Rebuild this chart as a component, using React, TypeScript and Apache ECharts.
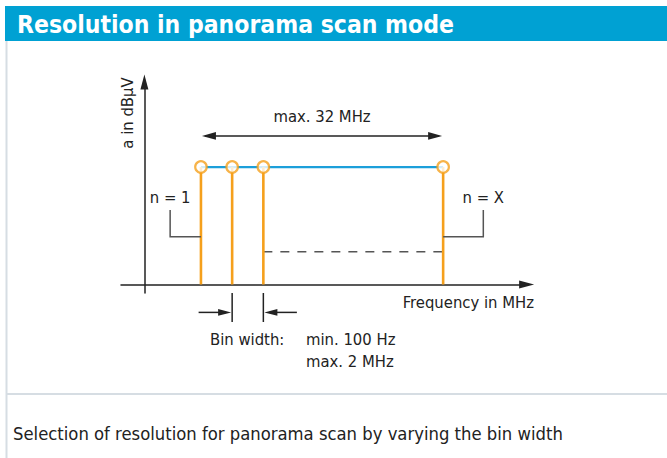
import React, { useEffect, useRef } from 'react';
import * as echarts from 'echarts';

const FONT = "'DejaVu Sans Condensed', 'Liberation Sans Narrow', 'DejaVu Sans', sans-serif";
const LABEL_FONT = `16.5px ${FONT}`;
const HEADER_BLUE = '#00a1d3';
const LINE_BLUE = '#1c9fda';
const ORANGE = '#f5a01c';
const DARK = '#222222';
const GREY = '#555555';
const BORDER = '#d6dde3';

// ---- diagram values (frequency axis / level axis, arbitrary units) ----
const title = 'Resolution in panorama scan mode';
const caption = 'Selection of resolution for panorama scan by varying the bin width';
const xAxisName = 'Frequency in MHz';
const yAxisName = 'a in dBµV';
const xRange = [-6, 98];
const yRange = [-4, 95];
const binFrequencies = [14.5, 22.5, 30.5, 76.6]; // bins n = 1, 2, 3 ... X
const binLevel = 55.1;
const thresholdLevel = 15.4;
const spanLevel = 69.7;
const spanLabel = 'max. 32 MHz';
const binLabels = ['n = 1', 'n = X'];
const labelledBins = [0, 3];
const leaderFrequencies = [6.6, 86.9];
const leaderTopLevel = 35.0;
const leaderLevel = 22.4;
const binWidthTickLevels = [-4, -17.6];
const binWidthArrowLevel = -13.1;
const binWidthArrowLength = 8.6;
const binWidthLabel = 'Bin width:';
const binWidthRange = ['min. 100 Hz', 'max. 2 MHz'];

function arrowHead(tip: number[], dx: number, dy: number, len: number, half: number) {
  const bx = tip[0] - dx * len;
  const by = tip[1] - dy * len;
  return [
    [tip[0], tip[1]],
    [bx - dy * half, by + dx * half],
    [bx + dy * half, by - dx * half],
  ];
}

export default function App() {
  const ref = useRef<HTMLDivElement>(null);

  useEffect(() => {
    if (!ref.current) return;
    const chart = echarts.init(ref.current, null, { renderer: 'svg' });

    const option: any = {
      animation: false,
      backgroundColor: '#ffffff',
      grid: { left: 121, right: 140.4, top: 82, bottom: 165 },
      xAxis: {
        type: 'value',
        min: xRange[0],
        max: xRange[1],
        axisLine: {
          show: true,
          onZero: true,
          symbol: ['none', 'triangle'],
          symbolSize: [8, 15],
          lineStyle: { color: DARK, width: 1.5 },
        },
        axisTick: { show: false },
        axisLabel: { show: false },
        splitLine: { show: false },
      },
      yAxis: {
        type: 'value',
        min: yRange[0],
        max: yRange[1],
        axisLine: {
          show: true,
          onZero: true,
          symbol: ['none', 'triangle'],
          symbolSize: [8, 15],
          lineStyle: { color: DARK, width: 1.5 },
        },
        axisTick: { show: false },
        axisLabel: { show: false },
        splitLine: { show: false },
      },
      series: [
        {
          type: 'line',
          data: [
            [binFrequencies[0], binLevel],
            [binFrequencies[binFrequencies.length - 1], binLevel],
          ],
          symbol: 'none',
          lineStyle: { color: LINE_BLUE, width: 2.2 },
          z: 2,
        },
        {
          type: 'line',
          data: [
            [binFrequencies[2], thresholdLevel],
            [binFrequencies[binFrequencies.length - 1], thresholdLevel],
          ],
          symbol: 'none',
          lineStyle: { color: GREY, width: 1.5, type: [9, 8] },
          z: 2,
        },
        {
          type: 'custom',
          data: binFrequencies.map((f) => [f, binLevel]),
          z: 3,
          renderItem: (_p: any, api: any) => {
            const top = api.coord([api.value(0), api.value(1)]);
            const base = api.coord([api.value(0), 0]);
            return {
              type: 'line',
              shape: { x1: base[0], y1: base[1], x2: top[0], y2: top[1] },
              style: { stroke: ORANGE, lineWidth: 2.6 },
            };
          },
        },
        {
          type: 'scatter',
          data: binFrequencies.map((f) => [f, binLevel]),
          symbol: 'circle',
          symbolSize: 11.5,
          itemStyle: { color: '#ffffff', borderColor: ORANGE, borderWidth: 2.2 },
          z: 5,
        },
        {
          type: 'custom',
          data: [[binFrequencies[0], binFrequencies[binFrequencies.length - 1], spanLevel]],
          z: 4,
          renderItem: (_p: any, api: any) => {
            const a = api.coord([api.value(0), api.value(2)]);
            const b = api.coord([api.value(1), api.value(2)]);
            return {
              type: 'group',
              children: [
                {
                  type: 'line',
                  shape: { x1: a[0] + 4, y1: a[1], x2: b[0] - 4, y2: b[1] },
                  style: { stroke: DARK, lineWidth: 1.5 },
                },
                {
                  type: 'polygon',
                  shape: { points: arrowHead([a[0] + 1, a[1]], -1, 0, 14, 3.8) },
                  style: { fill: DARK },
                },
                {
                  type: 'polygon',
                  shape: { points: arrowHead([b[0] - 1, b[1]], 1, 0, 14, 3.8) },
                  style: { fill: DARK },
                },
                {
                  type: 'text',
                  x: (a[0] + b[0]) / 2,
                  y: a[1] - 19,
                  style: {
                    text: spanLabel,
                    fill: DARK,
                    font: LABEL_FONT,
                    textAlign: 'center',
                    textVerticalAlign: 'middle',
                  },
                },
              ],
            };
          },
        },
        {
          type: 'custom',
          data: leaderFrequencies.map((lf, i) => [lf, leaderTopLevel, binFrequencies[labelledBins[i]], leaderLevel]),
          z: 4,
          renderItem: (p: any, api: any) => {
            const t = api.coord([api.value(0), api.value(1)]);
            const c = api.coord([api.value(0), api.value(3)]);
            const e = api.coord([api.value(2), api.value(3)]);
            return {
              type: 'group',
              children: [
                {
                  type: 'polyline',
                  shape: { points: [t, c, e] },
                  style: { stroke: GREY, lineWidth: 1.5, fill: 'none' },
                },
                {
                  type: 'text',
                  x: t[0],
                  y: t[1] - 12,
                  style: {
                    text: binLabels[p.dataIndex],
                    fill: DARK,
                    font: LABEL_FONT,
                    textAlign: 'center',
                    textVerticalAlign: 'middle',
                  },
                },
              ],
            };
          },
        },
        {
          type: 'custom',
          data: [
            [binFrequencies[1], -1],
            [binFrequencies[2], 1],
          ],
          z: 4,
          renderItem: (_p: any, api: any) => {
            const f = api.value(0);
            const dir = api.value(1);
            const t1 = api.coord([f, binWidthTickLevels[0]]);
            const t2 = api.coord([f, binWidthTickLevels[1]]);
            const tip = api.coord([f, binWidthArrowLevel]);
            const start = api.coord([f + dir * binWidthArrowLength, binWidthArrowLevel]);
            const dx = dir > 0 ? -1 : 1;
            return {
              type: 'group',
              children: [
                {
                  type: 'line',
                  shape: { x1: t1[0], y1: t1[1], x2: t2[0], y2: t2[1] },
                  style: { stroke: DARK, lineWidth: 1.5 },
                },
                {
                  type: 'line',
                  shape: { x1: start[0], y1: start[1], x2: tip[0] - dx * 6, y2: tip[1] },
                  style: { stroke: DARK, lineWidth: 1.5 },
                },
                {
                  type: 'polygon',
                  shape: { points: arrowHead([tip[0] - dx * 1, tip[1]], dx, 0, 13, 3.3) },
                  style: { fill: DARK },
                },
              ],
            };
          },
        },
      ],
      graphic: [
        { type: 'rect', shape: { x: 5, y: 6, width: 662, height: 35 }, style: { fill: HEADER_BLUE }, silent: true },
        {
          type: 'text',
          x: 17,
          y: 24,
          style: { text: title, fill: '#ffffff', font: `bold 24.5px ${FONT}`, textAlign: 'left', textVerticalAlign: 'middle' },
        },
        { type: 'line', shape: { x1: 6.5, y1: 41, x2: 6.5, y2: 458 }, style: { stroke: BORDER, lineWidth: 2 } },
        { type: 'line', shape: { x1: 6, y1: 394, x2: 667, y2: 394 }, style: { stroke: BORDER, lineWidth: 2 } },
        {
          type: 'text',
          x: 13,
          y: 433,
          style: { text: caption, fill: DARK, font: `18.3px ${FONT}`, textAlign: 'left', textVerticalAlign: 'middle' },
        },
        {
          type: 'text',
          x: 534,
          y: 302,
          style: { text: xAxisName, fill: DARK, font: LABEL_FONT, textAlign: 'right', textVerticalAlign: 'middle' },
        },
        {
          type: 'text',
          x: 127,
          y: 113,
          rotation: Math.PI / 2,
          style: { text: yAxisName, fill: DARK, font: LABEL_FONT, textAlign: 'center', textVerticalAlign: 'middle' },
        },
        {
          type: 'text',
          x: 210,
          y: 339,
          style: { text: binWidthLabel, fill: DARK, font: LABEL_FONT, textAlign: 'left', textVerticalAlign: 'middle' },
        },
        {
          type: 'text',
          x: 306,
          y: 339,
          style: { text: binWidthRange[0], fill: DARK, font: LABEL_FONT, textAlign: 'left', textVerticalAlign: 'middle' },
        },
        {
          type: 'text',
          x: 306,
          y: 361,
          style: { text: binWidthRange[1], fill: DARK, font: LABEL_FONT, textAlign: 'left', textVerticalAlign: 'middle' },
        },
      ],
    };

    chart.setOption(option);
    return () => chart.dispose();
  }, []);

  return (
    <div
      ref={ref}
      style={{ position: 'absolute', left: 0, top: 0, width: 667, height: 458, background: '#fff' }}
    />
  );
}
